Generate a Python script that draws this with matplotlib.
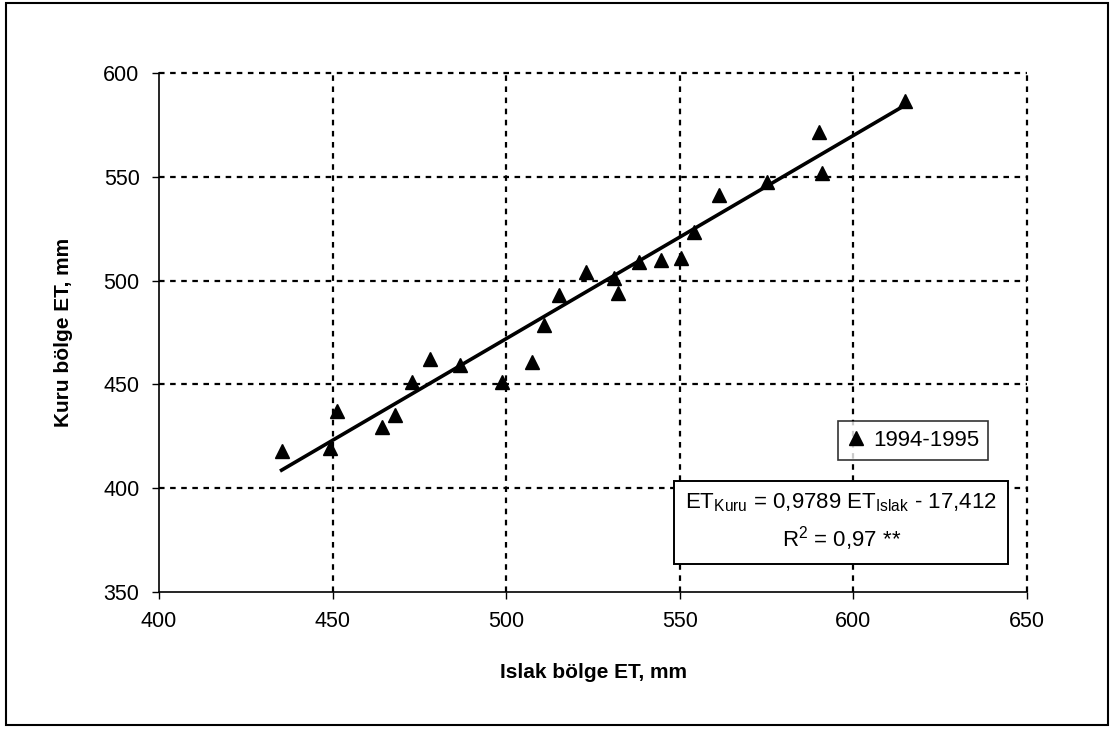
import numpy as np
import matplotlib
matplotlib.use("Agg")
import matplotlib.pyplot as plt
from matplotlib.patches import Rectangle

plt.rcParams['font.family'] = ['Liberation Sans', 'DejaVu Sans']
plt.rcParams['mathtext.fontset'] = 'custom'
plt.rcParams['mathtext.rm'] = 'Liberation Sans'

# ET values (mm)
islak = [435.3, 449.3, 451.2, 464.3, 468.0, 473.0, 478.1, 486.7, 498.7, 507.3,
         510.9, 515.3, 523.1, 531.0, 532.3, 538.2, 544.5, 550.2, 554.1, 561.4,
         575.0, 590.2, 590.9, 614.9]
kuru = [418.1, 419.2, 437.3, 429.3, 435.3, 451.0, 462.1, 459.3, 451.0, 460.9,
        478.6, 493.1, 504.0, 501.1, 494.1, 509.0, 510.0, 510.7, 523.6, 541.2,
        547.6, 571.7, 551.7, 586.7]
slope = 0.9789
intercept = -17.412
series_name = '1994-1995'
xticks = [400, 450, 500, 550, 600, 650]
yticks = [350, 400, 450, 500, 550, 600]

fig = plt.figure(figsize=(11.12, 7.3), dpi=100)
ax = fig.add_axes([0.143, 0.189, 0.7806, 0.711])

# grid (Excel style dotted)
for v in xticks[1:]:
    ax.axvline(v, color='black', lw=1.6, ls=(0, (2.5, 2.5)), zorder=1, clip_on=False)
for v in yticks[1:]:
    ax.axhline(v, color='black', lw=1.6, ls=(0, (2.5, 2.5)), zorder=1, clip_on=False)

ax.plot(islak, kuru, '^', color='black', markersize=10, zorder=3, label=series_name)

xs = np.array([min(islak), max(islak)])
ax.plot(xs, slope * xs + intercept, color='black', lw=2.6, zorder=2)

ax.set_xlim(400, 650)
ax.set_ylim(350, 600)
ax.set_xticks(xticks)
ax.set_yticks(yticks)
ax.tick_params(labelsize=15.5, direction='out', length=5, width=1, pad=9)
for s in ['top', 'right']:
    ax.spines[s].set_visible(False)
ax.spines['left'].set_linewidth(1.2)
ax.spines['bottom'].set_linewidth(1.2)

ax.set_xlabel('Islak bölge ET, mm', fontsize=15, fontweight='bold', labelpad=22)
ax.set_ylabel('Kuru bölge ET, mm', fontsize=15, fontweight='bold', labelpad=22)

leg = ax.legend(loc='upper left', bbox_to_anchor=(0.782, 0.33), fontsize=16,
                frameon=True, fancybox=False, handlelength=0.8, handletextpad=0.4,
                borderpad=0.4, borderaxespad=0)
leg.get_frame().set_edgecolor('black')
leg.get_frame().set_linewidth(1.2)

eq = ('ET$_{\\mathrm{Kuru}}$ = 0,9789 ET$_{\\mathrm{Islak}}$ - 17,412\n'
      'R$^{2}$ = 0,97 **')
ax.text(0.786, 0.134, eq, transform=ax.transAxes, ha='center', va='center',
        fontsize=16, linespacing=1.45, zorder=5,
        bbox=dict(boxstyle='square,pad=0.5', fc='white', ec='black', lw=1.4))

fig.patches.append(Rectangle((6 / 1112, 1 - 725 / 730), 1102 / 1112, 722 / 730,
                             transform=fig.transFigure, fill=False,
                             ec='black', lw=1.5))

fig.savefig('out.png', dpi=100)
